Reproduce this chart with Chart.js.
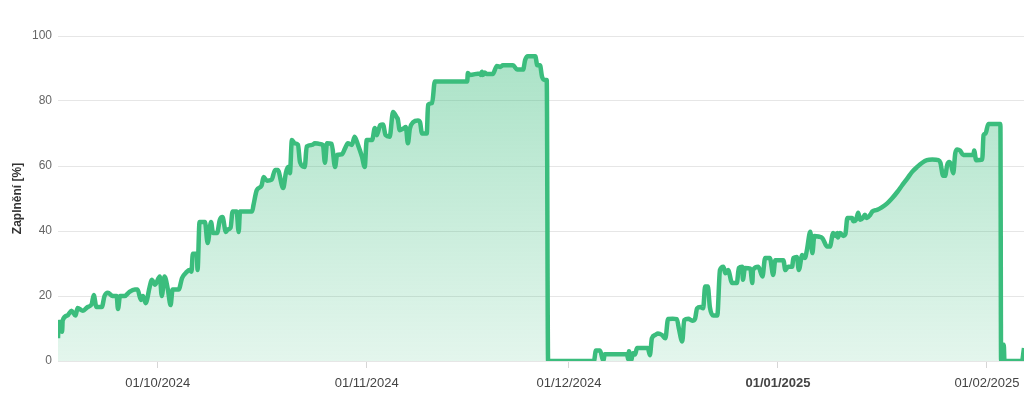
<!DOCTYPE html>
<html>
<head>
<meta charset="utf-8">
<script src="https://cdn.jsdelivr.net/npm/chart.js@4/dist/chart.umd.min.js"></script>
<style>
  html, body { margin: 0; padding: 0; background: #fff; }
  #wrap { width: 1024px; height: 395px; position: relative; }
</style>
</head>
<body>
<div id="wrap"><canvas id="fillChart"></canvas></div>
<script>
// days counted from 01/10/2024 (fractional), fill level in percent
const days = [
  -14.8, -14.7, -14.4, -14.2, -14.1, -13.4, -12.8, -12.2, -11.9, -11.1, -10.4, -9.8, -9.5, -9.1, -8.3,
  -7.9, -7.4, -6.7, -6.1, -5.9, -5.6, -4.9, -4.2, -3.4, -3.0, -2.5, -2.2, -1.8, -1.2, -0.9, -0.4,
  0.3, 0.6, 1.0, 1.5, 1.9, 2.2, 3.1, 3.6, 4.3, 4.7, 5.0, 5.2, 5.8, 5.9, 6.2, 7.0, 7.4, 7.9, 8.2,
  8.8, 9.2, 9.6, 10.1, 10.4, 10.8, 11.1, 11.7, 12.0, 12.2, 14.0, 14.2, 14.7, 15.4, 15.7, 16.2, 16.9,
  17.4, 17.8, 18.6, 19.0, 19.3, 19.6, 19.9, 20.3, 20.8, 21.1, 21.8, 22.1, 22.9, 23.3, 24.0, 24.5,
  24.8, 25.1, 25.8, 26.3, 26.6, 27.3, 27.8, 28.2, 28.8, 29.2, 29.7, 30.3, 30.7, 31.0, 31.8, 32.2,
  32.5, 33.0, 33.4, 33.8, 34.4, 34.9, 35.5, 35.6, 35.9, 36.4, 36.8, 37.1, 37.4, 37.9, 38.6, 38.9,
  39.2, 39.9, 40.1, 40.7, 41.1, 45.9, 46.0, 46.3, 47.8, 47.9, 48.1, 48.2, 48.5, 48.8, 49.7, 50.3,
  50.8, 51.2, 52.7, 53.3, 54.2, 54.5, 54.9, 56.0, 56.3, 56.7, 57.0, 57.4, 57.7, 57.9,
  64.7, 65.0, 65.6, 66.1, 66.3, 69.6, 69.8, 69.9, 70.2, 70.5, 70.8, 71.1, 72.7, 73.0, 73.3, 73.8,
  74.2, 74.8, 75.3, 75.7, 76.4, 77.0, 77.3, 77.8, 78.1, 78.7, 79.3, 79.7, 80.0, 80.5, 80.9, 81.2,
  81.6, 81.9, 82.4, 83.0, 83.4, 83.9, 84.2, 84.6, 85.2, 85.9, 86.2, 86.7, 86.8, 87.1, 87.9, 88.2,
  88.3, 89.1, 89.7, 90.1, 90.8, 91.3, 91.6, 92.8, 93.1, 93.5, 94.1, 94.3, 94.8, 95.1, 95.6, 96.0,
  96.3, 96.8, 97.1, 97.4, 98.0, 98.6, 99.3, 99.7, 100.2, 100.5, 100.8, 100.9, 101.2, 101.7, 102.0,
  102.3, 103.0, 103.2, 103.6, 103.9, 104.2, 104.6, 104.9, 105.2, 105.7, 106.0, 106.7, 107.4, 108.2,
  108.9, 109.7, 110.4, 111.2, 111.9, 112.7, 113.4, 114.1, 114.9, 115.8, 116.1, 116.5, 116.8, 117.1,
  117.4, 117.7, 118.0, 118.3, 118.6, 119.0, 119.5, 121.0, 121.1, 121.4, 122.3, 122.5, 122.8, 123.2,
  125.0, 125.1, 125.5, 125.6, 128.2, 128.5
];
const fillLevel = [
  7, 12, 12, 9, 12.5, 14, 15.5, 14, 16.3, 15.5, 16.6, 17.5, 20.3, 16.6, 16.6,
  20, 21, 20, 20, 16, 20, 20, 21.3, 22, 22, 18.8, 20, 17.8, 22.8, 25, 23.5,
  26, 20, 26, 22, 17.2, 22, 22, 25.5, 27.4, 28, 27.5, 33, 33, 28, 42.8, 42.8, 36.3, 42.8, 39.4,
  39.4, 43.4, 44.3, 39.7, 40.5, 41, 46, 46, 39.7, 46, 46, 48, 52.6, 54, 56.6, 55.5, 55.8,
  58.8, 58.8, 53.2, 57.8, 59.7, 57.8, 68, 67, 66.5, 61.2, 59.7, 66, 66.5, 67, 66.8, 66.5,
  61, 67, 66.8, 59.7, 63.4, 63.6, 65.5, 67, 66.5, 69, 66.5, 62.8, 59.7, 68, 68, 71.7,
  69.5, 72.6, 72.8, 69.5, 69, 76.6, 74.8, 74.5, 71, 71.5, 72, 67, 71.5, 73.5, 74, 73.5,
  70, 70, 78.8, 79.4, 86, 86, 88.6, 88, 88.5, 88, 89, 88, 88.8, 88.3, 88.3, 90.8,
  90.5, 91, 91, 89.7, 89.7, 92.6, 93.8, 93.8, 91, 91, 87.5, 86.5, 86.5, 0,
  0, 3.2, 3.2, 0, 2.1, 2.1, 0.5, 3, 0, 2.4, 2, 4, 4, 1.8, 7, 8,
  8.5, 8, 7, 12.9, 13, 12.9, 10, 6, 12.6, 13, 12.4, 13, 16.2, 16.6, 16.2, 22.9,
  22.9, 16.6, 14, 14, 28, 29, 27, 28, 24, 24, 28.6, 29, 25, 28.6, 28.4, 24,
  28, 29, 26, 31.7, 31.7, 26.5, 31, 31, 28, 29, 29, 31.7, 32, 28, 32.6, 31.7,
  34.2, 39.8, 33.2, 38.5, 38.3, 37.8, 35.2, 35.2, 39.4, 38.5, 39.4, 38, 39.4, 38.5, 39,
  44, 44, 43, 43.5, 45.6, 43.5, 44, 45, 44, 45, 46, 46.5, 47.3, 48.5,
  50, 52, 54, 56.2, 58.2, 59.8, 61, 61.8, 62, 61.8, 61, 57, 57, 60.3,
  61.2, 60.3, 57.8, 63.9, 65.1, 64.8, 63.4, 63.4, 64.8, 61.8, 62, 69.5, 70, 72.9,
  72.9, 0, 5, 0, 0, 4
];
const tickDays = [0, 31, 61, 92, 123];
const tickLabels = ['01/10/2024', '01/11/2024', '01/12/2024', '01/01/2025', '01/02/2025'];
const yTicks = [0, 20, 40, 60, 80, 100];

const lineColor = 'rgb(59, 189, 125)';
const font = "'Liberation Sans', Arial, sans-serif";

const points = days.map((d, i) => ({ x: d, y: fillLevel[i] }));

const ctx = document.getElementById('fillChart').getContext('2d');
new Chart(ctx, {
  type: 'line',
  data: {
    datasets: [{
      label: 'Zaplnění',
      data: points,
      borderColor: lineColor,
      borderWidth: 4.5,
      pointRadius: 0,
      cubicInterpolationMode: 'monotone',
      fill: 'origin',
      backgroundColor: (c) => {
        const area = c.chart.chartArea;
        if (!area) return 'rgba(59, 189, 125, 0.25)';
        const g = c.chart.ctx.createLinearGradient(0, area.top, 0, area.bottom);
        g.addColorStop(0, 'rgba(59, 189, 125, 0.45)');
        g.addColorStop(1, 'rgba(59, 189, 125, 0.14)');
        return g;
      }
    }]
  },
  options: {
    responsive: true,
    maintainAspectRatio: false,
    animation: false,
    layout: { padding: { left: 0, right: 0, top: 36, bottom: 0 } },
    plugins: {
      legend: { display: false },
      tooltip: { enabled: false }
    },
    scales: {
      x: {
        type: 'linear',
        min: days[0],
        max: days[days.length - 1],
        afterBuildTicks: (axis) => {
          axis.ticks = tickDays.map(v => ({ value: v }));
        },
        afterFit: (axis) => {
          axis.height = 34;
          axis.paddingLeft = 0;
          axis.paddingRight = 0;
        },
        ticks: {
          autoSkip: false,
          maxRotation: 0,
          padding: 8,
          color: '#444',
          font: (c) => ({
            family: font,
            size: 13,
            weight: c.tick && tickLabels[tickDays.indexOf(c.tick.value)] === '01/01/2025' ? 'bold' : 'normal'
          }),
          callback: (v) => tickLabels[tickDays.indexOf(v)]
        },
        grid: {
          drawOnChartArea: false,
          drawTicks: true,
          tickLength: 7,
          color: '#d6d6d6'
        },
        border: { display: false }
      },
      y: {
        min: 0,
        max: 100,
        afterBuildTicks: (axis) => {
          axis.ticks = yTicks.map(v => ({ value: v }));
        },
        afterFit: (axis) => {
          axis.width = 58;
          axis.paddingTop = 0;
          axis.paddingBottom = 0;
        },
        ticks: {
          padding: 6,
          color: '#666',
          font: { family: font, size: 12 }
        },
        grid: {
          color: '#e6e6e6',
          drawTicks: false
        },
        border: { display: false },
        title: {
          display: true,
          text: 'Zaplnění [%]',
          color: '#333',
          font: { family: font, size: 12, weight: 'bold' },
          padding: { top: 10, bottom: 0 }
        }
      }
    }
  }
});
</script>
</body>
</html>
